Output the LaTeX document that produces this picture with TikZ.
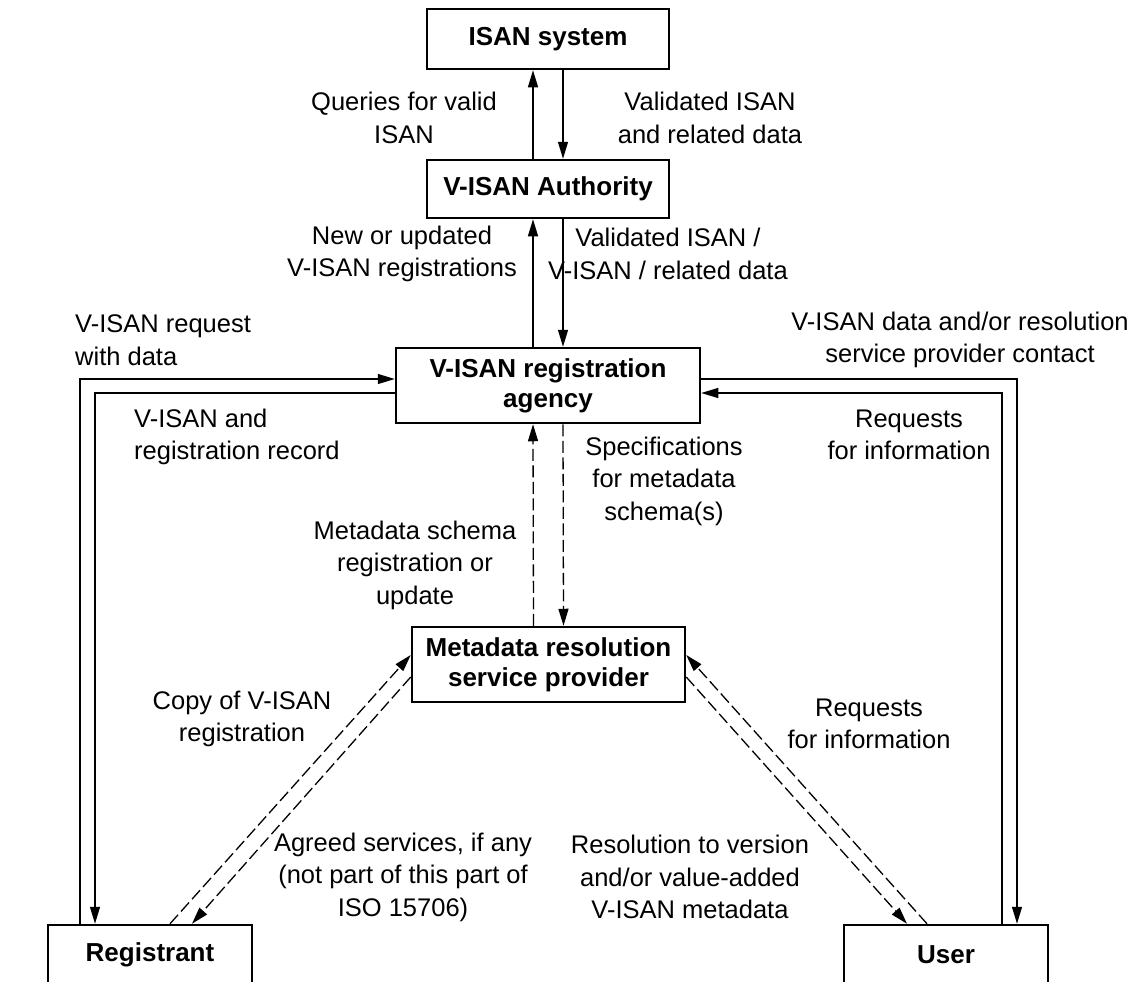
\documentclass[tikz,border=0pt]{standalone}
\usepackage{fontspec}
\setmainfont{Liberation Sans}
\usetikzlibrary{arrows.meta}
\begin{document}
\begin{tikzpicture}[x=1pt,y=-1pt,
  box/.style={draw, line width=2.5pt, font=\fontsize{26}{30}\selectfont\bfseries, align=center, inner sep=0pt},
  lbl/.style={font=\fontsize{25.5}{32.5}\selectfont, align=center, inner sep=0pt},
  arr/.style={line width=1.3pt, -{Triangle[length=17pt,width=10pt]}},
  dsh/.style={dash pattern=on 12pt off 4.5pt}]
\clip (0,0) rectangle (1138,982);
% boxes
\node[box, minimum width=242pt, minimum height=60pt] (isan) at (548,39) {ISAN system};
\node[box, minimum width=242pt, minimum height=58pt] (auth) at (548,189) {V-ISAN Authority};
\node[box, minimum width=304pt, minimum height=75pt] (agency) at (548,385.5) {V-ISAN registration\\agency};
\node[box, minimum width=273pt, minimum height=75pt] (meta) at (548.5,664.5) {Metadata resolution\\service provider};
\node[box, minimum width=204pt, minimum height=60pt] (reg) at (150,955) {Registrant};
\node[box, minimum width=204pt, minimum height=60pt] (user) at (946,955) {User};
% vertical connectors
\draw[arr] ([xshift=-15pt]auth.north) -- ([xshift=-15pt]isan.south);
\draw[arr] ([xshift=15pt]isan.south) -- ([xshift=15pt]auth.north);
\draw[arr] ([xshift=-15pt]agency.north) -- ([xshift=-15pt]auth.south);
\draw[arr] ([xshift=15pt]auth.south) -- ([xshift=15pt]agency.north);
\draw[arr,dsh] ([xshift=-15pt]meta.north) -- ([xshift=-15pt]agency.south);
\draw[arr,dsh] ([xshift=15pt]agency.south) -- ([xshift=15pt]meta.north);
% side loops
\draw[arr] ([xshift=-70pt]reg.north) |- ([yshift=6.5pt]agency.west);
\draw[arr] ([yshift=-7.5pt]agency.west) -| ([xshift=-55pt]reg.north);
\draw[arr] ([xshift=56pt]user.north) |- ([yshift=-7.5pt]agency.east);
\draw[arr] ([yshift=6.5pt]agency.east) -| ([xshift=71pt]user.north);
% diagonals
\draw[arr,dsh] ([xshift=20pt]reg.north) -- ([yshift=9.5pt]meta.west);
\draw[arr,dsh] ([yshift=-12.5pt]meta.west) -- ([xshift=42pt]reg.north);
\draw[arr,dsh] ([xshift=-19pt]user.north) -- ([yshift=9.5pt]meta.east);
\draw[arr,dsh] ([yshift=-12.5pt]meta.east) -- ([xshift=-39pt]user.north);
% labels
\node[lbl] (l1) at (404,118) {Queries for valid\\ISAN};
\node[lbl] (l2) at (710,118) {Validated ISAN\\and related data};
\node[lbl] (l3) at (402,254) {New or updated\\V-ISAN registrations};
\node[lbl] (l4) at (668,254) {Validated ISAN /\\V-ISAN / related data};
\node[lbl, align=left, anchor=west] (l5) at (75,340) {V-ISAN request\\with data};
\node[lbl, align=left, anchor=west] (l6) at (134,437) {V-ISAN and\\registration record};
\node[lbl] (l7) at (960,340) {V-ISAN data and/or resolution\\service provider contact};
\node[lbl] (l8) at (909,435) {Requests\\for information};
\node[lbl] (l9) at (664,481) {Specifications\\for metadata\\schema(s)};
\node[lbl] (l10) at (415,565) {Metadata schema\\registration or\\update};
\node[lbl] (l11) at (242,719) {Copy of V-ISAN\\registration};
\node[lbl] (l12) at (869,724) {Requests\\for information};
\node[lbl] (l13) at (403,877) {Agreed services, if any\\(not part of this part of\\ISO 15706)};
\node[lbl] (l14) at (690,877) {Resolution to version\\and/or value-added\\V-ISAN metadata};
\end{tikzpicture}
\end{document}
